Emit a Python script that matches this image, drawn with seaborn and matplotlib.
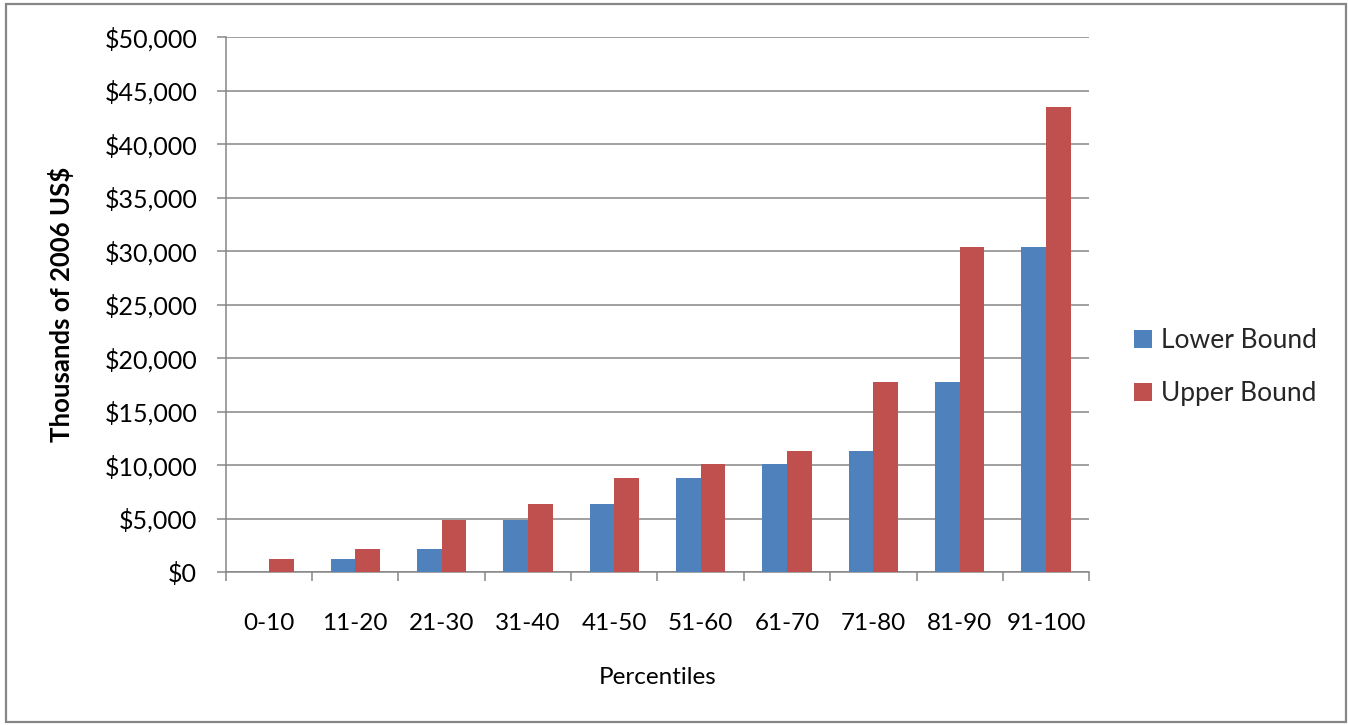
import matplotlib
matplotlib.use("Agg")
import matplotlib.pyplot as plt
import matplotlib.ticker as mticker
from matplotlib.patches import Rectangle
import numpy as np
import pandas as pd
import seaborn as sns

# Wealth bands by percentile, thousands of 2006 US$
percentiles = ["0-10", "11-20", "21-30", "31-40", "41-50",
               "51-60", "61-70", "71-80", "81-90", "91-100"]
lower_bound = [0, 1200, 2200, 4900, 6400, 8800, 10100, 11300, 17800, 30400]
upper_bound = [1200, 2200, 4900, 6400, 8800, 10100, 11300, 17800, 30400, 43500]
series_names = ["Lower Bound", "Upper Bound"]
series_colors = ["#4F81BD", "#C0504D"]
y_ticks = list(range(0, 50001, 5000))

df = pd.DataFrame({
    "Percentiles": percentiles * 2,
    "Value": lower_bound + upper_bound,
    "Series": [series_names[0]] * len(percentiles) + [series_names[1]] * len(percentiles),
})

sns.set_theme(style="white")
plt.rcParams["font.family"] = ["Lato", "DejaVu Sans"]

W, H, DPI = 1348, 725, 100
fig = plt.figure(figsize=(W / DPI, H / DPI), dpi=DPI)
ax = fig.add_axes([225.7 / W, 1 - 572.3 / H, (1089.3 - 225.7) / W, (572.3 - 37.3) / H])

sns.barplot(data=df, x="Percentiles", y="Value", hue="Series",
            palette=series_colors, width=0.572, saturation=1,
            linewidth=0, edgecolor="none",
            ax=ax, legend=True, zorder=3)

grid_col = "#868686"
ax.set_ylim(0, 50000)
ax.set_xlim(-0.5, len(percentiles) - 0.5)
ax.set_yticks(y_ticks)
ax.yaxis.set_major_formatter(mticker.FuncFormatter(lambda v, p: f"${int(v):,}"))
ax.yaxis.grid(True, color=grid_col, linewidth=1.1, zorder=0)
ax.set_axisbelow(True)

for s in ["top", "right"]:
    ax.spines[s].set_visible(False)
for s in ["left", "bottom"]:
    ax.spines[s].set_color(grid_col)
    ax.spines[s].set_linewidth(1.1)

# value axis: ticks pointing out, labels right aligned
ax.tick_params(axis="y", which="major", direction="out", length=6.5, width=1.1,
               color=grid_col, pad=14, labelsize=18, labelcolor="#000000", left=True)
# category axis: labels centred, tick marks on the category boundaries
ax.tick_params(axis="x", which="major", length=0, pad=29, labelsize=17.5, labelcolor="#000000")
ax.set_xticks(np.arange(-0.5, len(percentiles), 1.0), minor=True)
ax.tick_params(axis="x", which="minor", direction="out", length=6.5, width=1.1,
               color=grid_col, bottom=True)

ax.set_xlabel("Percentiles", fontsize=17.5, labelpad=24, color="#000000")
ax.set_ylabel("Thousands of 2006 US$", fontsize=18.5, fontweight="bold",
              labelpad=22, color="#000000")

handles, labels = ax.get_legend_handles_labels()
ax.legend(handles, labels, loc="center left", bbox_to_anchor=(1134 / W, 1 - 367 / H),
          bbox_transform=fig.transFigure, frameon=False, fontsize=19,
          handlelength=0.68, handleheight=0.68, handletextpad=0.35,
          labelspacing=1.05, borderaxespad=0, borderpad=0)

# outer chart frame
fig.add_artist(Rectangle((6 / W, 1 - 722 / H), (1346 - 6) / W, (722 - 4) / H,
                         transform=fig.transFigure, fill=False,
                         edgecolor=grid_col, linewidth=1.6))

fig.savefig("out.png", dpi=DPI)
